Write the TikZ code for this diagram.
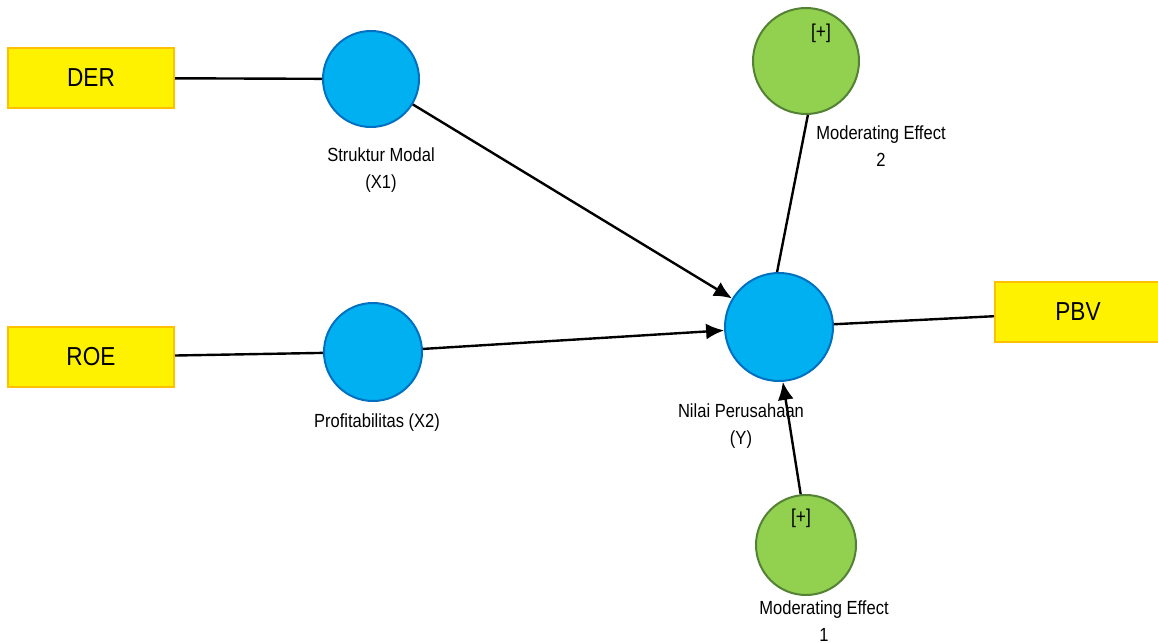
\documentclass[tikz,border=0pt]{standalone}
\usepackage{fontspec}
\setmainfont{Liberation Sans}[FakeStretch=0.87]
\usetikzlibrary{positioning,arrows.meta}

\definecolor{latentfill}{HTML}{00B0F0}
\definecolor{latentline}{HTML}{0070C0}
\definecolor{modfill}{HTML}{92D050}
\definecolor{modline}{HTML}{548235}
\definecolor{indline}{HTML}{FFC000}

\begin{document}
\begin{tikzpicture}[x=0.5pt, y=-0.5pt,
    indicator/.style={rectangle, draw=indline, fill=yellow, line width=1pt, minimum width=83pt, minimum height=30pt, font=\fontsize{13}{15}\selectfont},
    latent/.style={circle, draw=latentline, fill=latentfill, line width=1pt, inner sep=0pt},
    moderator/.style={circle, draw=modline, fill=modfill, line width=1pt, inner sep=0pt},
    caption/.style={align=center, inner sep=0pt, font=\fontsize{9.5}{13.5}\selectfont},
    link/.style={line width=1.2pt},
    path/.style={line width=1.2pt, -{Latex[length=9pt,width=8pt]}}]
    \useasboundingbox (0,0) rectangle (1158,643);

    % indicators
    \node[indicator] (der) at (91,78) {DER};
    \node[indicator] (roe) at (91,357) {ROE};
    \node[indicator] (pbv) at (1078,312) {PBV};

    % latent variables
    \node[latent, minimum size=48pt] (x1) at (371,79) {};
    \node[latent, minimum size=49pt] (x2) at (373,352) {};
    \node[latent, minimum size=54pt] (y) at (779,327) {};
    \node[moderator, minimum size=53pt] (me2) at (806,61) {};
    \node[moderator, minimum size=50pt] (me1) at (806,545) {};
    \node[caption, font=\fontsize{10}{12}\selectfont] (plus2) at (821,33) {[+]};
    \node[caption, font=\fontsize{10}{12}\selectfont] (plus1) at (801,518) {[+]};

    % captions
    \node[caption] (x1lab) at (381,170) {Struktur Modal\\(X1)};
    \node[caption] (x2lab) at (377,423) {Profitabilitas (X2)};
    \node[caption] (ylab) at (741,426) {Nilai Perusahaan\\(Y)};
    \node[caption] (me2lab) at (881,146) {Moderating Effect\\2};
    \node[caption] (me1lab) at (824,621) {Moderating Effect\\1};

    \draw[link] (der) -- (x1);
    \draw[link] (roe) -- (x2);
    \draw[link] (y) -- (pbv);
    \draw[link] (me2.-88) -- (y.92);
    \draw[path] (x1) -- (y);
    \draw[path] (x2) -- (y);
    \draw[path] (me1.96) -- (y.-86);
\end{tikzpicture}
\end{document}
